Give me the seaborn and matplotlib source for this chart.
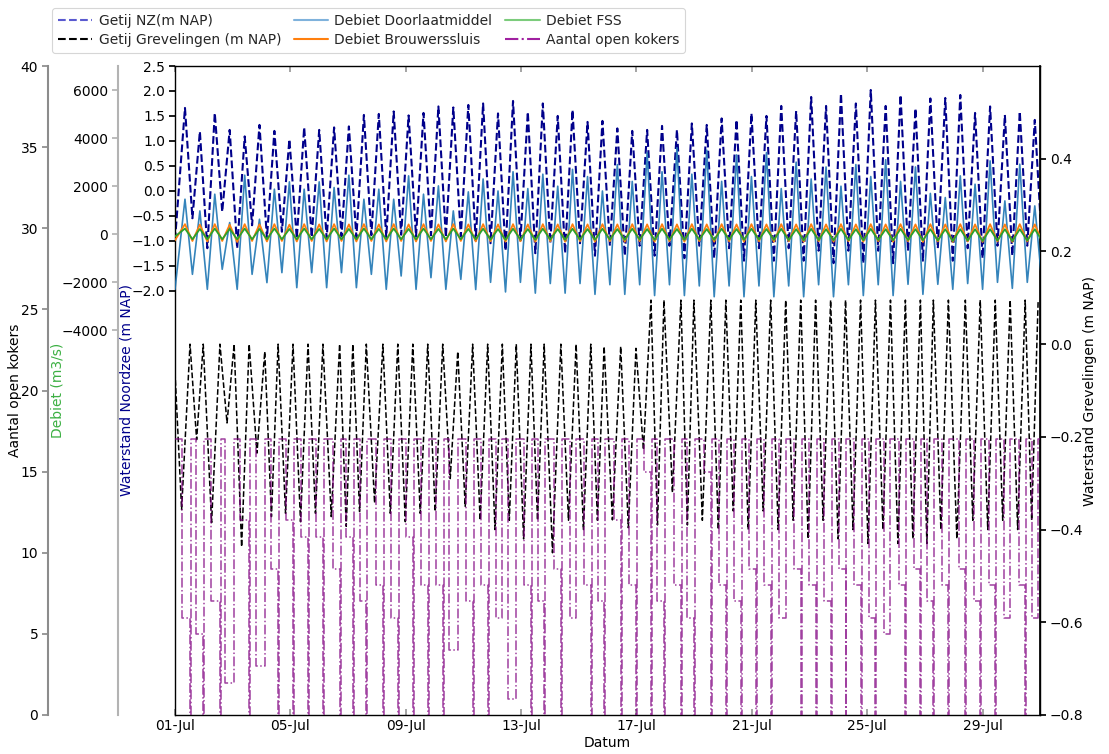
import numpy as np
import pandas as pd
import matplotlib
matplotlib.use("Agg")
import matplotlib.pyplot as plt
import matplotlib.dates as mdates
from matplotlib.lines import Line2D
import seaborn as sns

sns.set_theme(style="ticks")
plt.rcParams['font.family'] = ['DejaVu Sans']
plt.rcParams['font.size'] = 10
plt.rcParams['axes.unicode_minus'] = True

START = pd.Timestamp("2013-07-01 00:00")
END = pd.Timestamp("2013-07-30 23:50")

# ---------------- data (hours since 01-Jul 00:00) ----------------
nz_hw_hours = [8.3, 20.7, 33.1, 45.5, 58.0, 70.3, 82.7, 95.2, 107.5, 120.0,
               132.4, 144.7, 157.2, 169.6, 182.0, 194.4, 206.8, 219.2, 231.6, 244.1,
               256.4, 268.8, 281.3, 293.6, 306.1, 318.5, 330.8, 343.3, 355.7, 368.1,
               380.5, 392.9, 405.3, 417.7, 430.1, 442.5, 454.9, 467.3, 479.7, 492.2,
               504.5, 516.9, 529.4, 541.8, 554.2, 566.6, 579.0, 591.4, 603.8, 616.2,
               628.6, 641.0, 653.5, 665.8, 678.3, 690.6, 703.0, 715.5]
nz_start = -0.99
nz_high = [1.66, 1.19, 1.56, 1.22, 1.09, 1.32, 1.20, 1.03, 1.27, 1.22,
           1.27, 1.29, 1.52, 1.54, 1.59, 1.51, 1.56, 1.69, 1.67, 1.72,
           1.75, 1.55, 1.80, 1.58, 1.75, 1.50, 1.62, 1.38, 1.40, 1.25,
           1.20, 1.22, 1.30, 1.22, 1.35, 1.32, 1.45, 1.42, 1.55, 1.50,
           1.70, 1.60, 1.88, 1.70, 1.95, 1.75, 2.02, 1.70, 1.92, 1.65,
           1.85, 1.86, 1.92, 1.56, 1.69, 1.52, 1.59, 1.42]
nz_low = [-0.55, -1.15, -0.42, -1.15, -0.69, -0.95, -0.82, -0.95, -0.93, -0.95,
          -0.91, -0.93, -0.89, -0.93, -0.88, -0.91, -0.89, -0.93, -0.91, -1.00,
          -1.05, -1.20, -1.00, -1.25, -1.05, -1.25, -1.05, -1.30, -1.10, -1.30,
          -1.10, -1.30, -1.10, -1.35, -1.10, -1.35, -1.15, -1.40, -1.15, -1.40,
          -1.15, -1.40, -1.20, -1.45, -1.20, -1.45, -1.20, -1.45, -1.20, -1.40,
          -1.15, -1.40, -1.15, -1.35, -1.10, -1.30, -1.10, -1.20]

doorlaat_start = -2290
doorlaat_high = [1458, 971, 1667, 486, 2458, 625, 1875, 2180, 1875, 2180,
                 1945, 2458, 1458, 1875, 1458, 2430, 1667, 2013, 971, 1764,
                 2300, 1800, 2600, 1900, 2500, 2000, 2700, 2400, 1800, 2900,
                 2200, 3400, 2600, 3600, 2500, 3500, 2200, 3300, 2400, 3400,
                 1900, 3000, 2300, 2800, 2000, 2900, 2400, 3100, 2200, 2800,
                 1700, 1528, 2430, 2083, 3054, 1388, 2916, 1180]
doorlaat_low = [-1667, -2290, -1458, -2290, -1667, -2013, -1597, -2222, -1597, -2222,
                -1597, -2222, -1667, -2290, -1736, -2290, -1806, -2290, -1875, -2300,
                -2000, -2400, -2000, -2450, -2050, -2450, -2050, -2500, -2100, -2500,
                -2100, -2550, -2100, -2550, -2150, -2600, -2150, -2600, -2150, -2600,
                -2150, -2600, -2100, -2600, -2100, -2550, -2100, -2550, -2083, -2500,
                -2083, -2290, -2050, -2290, -2000, -2250, -2000, -2200]

brouwers_start = -250
brouwers_high = [420, 400, 420, 400, 420, 410, 420, 400, 420, 410,
                 420, 410, 420, 410, 420, 410, 420, 410, 420, 410,
                 420, 410, 420, 410, 420, 410, 420, 410, 420, 410,
                 420, 410, 420, 410, 420, 410, 420, 410, 420, 410,
                 420, 410, 420, 410, 420, 410, 420, 410, 420, 410,
                 420, 410, 420, 410, 420, 410, 420, 410]
brouwers_low = [-280, -300, -280, -320, -280, -300, -280, -300, -280, -300,
                -280, -300, -280, -300, -280, -300, -280, -300, -280, -300,
                -290, -310, -290, -310, -290, -310, -290, -310, -290, -310,
                -290, -310, -290, -310, -290, -310, -290, -310, -290, -310,
                -290, -310, -290, -310, -290, -310, -290, -310, -290, -320,
                -300, -320, -300, -320, -300, -320, -300, -320]

fss_start = -90
fss_high = [236, 220, 236, 220, 236, 220, 236, 220, 236, 220,
            236, 220, 236, 220, 236, 220, 236, 220, 236, 220,
            230, 215, 230, 215, 230, 215, 230, 215, 230, 215,
            230, 215, 230, 215, 230, 215, 230, 215, 230, 215,
            225, 210, 225, 210, 225, 210, 225, 210, 225, 210,
            210, 208, 210, 208, 210, 208, 210, 208]
fss_low = [-208, -210, -208, -210, -208, -210, -208, -210, -208, -210,
           -208, -210, -208, -210, -208, -210, -208, -210, -208, -210,
           -220, -230, -220, -230, -220, -230, -220, -230, -220, -230,
           -220, -230, -220, -230, -220, -230, -220, -230, -220, -230,
           -240, -250, -240, -250, -240, -250, -240, -250, -240, -250,
           -260, -278, -260, -278, -260, -278, -260, -278]

grev_hw_hours = [12.5, 23.5, 37.4, 49.2, 61.7, 74.7, 85.8, 98.2, 110.7, 123.1,
                 137.0, 148.0, 159.2, 173.0, 185.4, 197.9, 210.3, 222.8, 235.3, 247.7,
                 260.2, 272.4, 284.0, 296.2, 307.2, 321.1, 333.8, 346.0, 357.1, 370.9,
                 383.6, 396.1, 406.9, 421.0, 431.8, 445.9, 458.4, 470.8, 483.3, 495.7,
                 508.2, 520.7, 533.1, 545.6, 558.0, 570.5, 582.9, 595.4, 607.8, 620.3,
                 631.1, 643.6, 657.7, 670.1, 682.6, 695.0, 707.5, 718.3]
grev_start = -0.06
grev_first_lw_hour = 5.5
grev_high = [0.0, 0.0, 0.0, 0.0, 0.0, -0.016, 0.0, 0.0, 0.0, 0.0,
             0.0, 0.0, 0.0, 0.0, 0.0, 0.0, 0.0, 0.0, -0.016, 0.0,
             0.0, 0.0, 0.0, 0.0, 0.0, 0.0, 0.0, 0.0, -0.005, -0.005,
             -0.009, 0.095, 0.095, 0.095, 0.095, 0.095, 0.095, 0.095, 0.095, 0.095,
             0.095, 0.095, 0.095, 0.095, 0.095, 0.095, 0.095, 0.095, 0.095, 0.095,
             0.095, 0.095, 0.095, 0.095, 0.095, 0.095, 0.095, 0.095]
grev_low = [-0.357, -0.206, -0.385, -0.17, -0.437, -0.235, -0.372, -0.365, -0.383, -0.365,
            -0.372, -0.393, -0.361, -0.343, -0.365, -0.383, -0.365, -0.361, -0.29, -0.350,
            -0.38, -0.40, -0.38, -0.42, -0.38, -0.45, -0.38, -0.40, -0.38, -0.379,
            -0.396, -0.228, -0.39, -0.32, -0.39, -0.38, -0.40, -0.36, -0.40, -0.36,
            -0.40, -0.38, -0.42, -0.38, -0.42, -0.40, -0.43, -0.40, -0.43, -0.42,
            -0.43, -0.40, -0.42, -0.38, -0.40, -0.38, -0.40, -0.38]

kokers_max = 17
kokers_level = [6, 5, 7, 2, 12, 3, 9, 12, 11, 11,
                9, 11, 7, 8, 6, 11, 8, 8, 4, 7,
                8, 6, 1, 8, 7, 9, 6, 8, 7, 12,
                8, 15, 7, 8, 6, 15, 8, 7, 9, 8,
                6, 9, 8, 7, 9, 8, 6, 5, 8, 9,
                7, 8, 9, 7, 8, 6, 8, 6]
kokers_to_zero = [1, 1, 1, 0, 1, 0, 1, 1, 1, 1,
                  1, 1, 1, 1, 1, 1, 1, 1, 0, 1,
                  1, 0, 0, 1, 1, 1, 0, 1, 1, 1,
                  1, 1, 1, 1, 1, 1, 1, 1, 1, 1,
                  0, 1, 1, 1, 1, 1, 1, 0, 1, 1,
                  1, 1, 1, 1, 1, 0, 1, 0]
kokers_lead_hours = [6.9, 6.1, 7.1, 7.5, 7.7, 7.5, 5.5, 5.8, 5.5, 5.5,
                     5.5, 5.5, 5.5, 5.5, 5.5, 5.5, 5.5, 5.5, 6.9, 5.5,
                     5.5, 5.5, 7.0, 5.5, 5.5, 5.5, 5.5, 5.5, 5.5, 5.5,
                     5.5, 5.5, 5.5, 5.5, 5.5, 5.5, 5.5, 5.5, 5.5, 5.5,
                     5.5, 5.5, 5.5, 5.5, 5.5, 5.5, 5.5, 5.5, 5.5, 5.5,
                     5.5, 5.5, 5.5, 5.5, 5.5, 5.5, 5.5, 5.5]
kokers_zero_hours = 0.8

series_labels = ["Getij NZ(m NAP)", "Getij Grevelingen (m NAP)", "Debiet Doorlaatmiddel",
                 "Debiet Brouwerssluis", "Debiet FSS", "Aantal open kokers"]


# ---------------- build frames ----------------
def to_time(h):
    return START + pd.to_timedelta(np.asarray(h, float), unit="h")


def hw_first(hw_h, hi, lo, v0):
    hw = np.asarray(hw_h, float)
    lw = np.append((hw[:-1] + hw[1:]) / 2, hw[-1] + (hw[-1] - hw[-2]) / 2)
    t = np.empty(2 * len(hw)); v = np.empty(2 * len(hw))
    t[0::2], t[1::2] = hw, lw
    v[0::2], v[1::2] = hi, lo
    t = np.insert(t, 0, 0.0); v = np.insert(v, 0, v0)
    return pd.DataFrame({"time": to_time(t), "value": v})


def lw_first(hw_h, hi, lo, v0, lw0):
    hw = np.asarray(hw_h, float)
    lw = np.insert((hw[:-1] + hw[1:]) / 2, 0, lw0)
    t = np.empty(2 * len(hw)); v = np.empty(2 * len(hw))
    t[0::2], t[1::2] = lw, hw
    v[0::2], v[1::2] = lo, hi
    t = np.insert(t, 0, 0.0); v = np.insert(v, 0, v0)
    return pd.DataFrame({"time": to_time(t), "value": v})


df_nz = hw_first(nz_hw_hours, nz_high, nz_low, nz_start)
df_dl = hw_first(nz_hw_hours, doorlaat_high, doorlaat_low, doorlaat_start)
df_bs = hw_first(nz_hw_hours, brouwers_high, brouwers_low, brouwers_start)
df_fss = hw_first(nz_hw_hours, fss_high, fss_low, fss_start)
df_gr = lw_first(grev_hw_hours, grev_high, grev_low, grev_start, grev_first_lw_hour)

kt, kv = [0.0], [kokers_max]
for T, lead, lev, z in zip(grev_hw_hours, kokers_lead_hours, kokers_level, kokers_to_zero):
    kt += [T - lead, T - lead, T]
    kv += [kokers_max, lev, lev]
    if z:
        kt += [T, T + kokers_zero_hours, T + kokers_zero_hours]
        kv += [0, 0, kokers_max]
    else:
        kt += [T]
        kv += [kokers_max]
kt += [720.0]; kv += [kokers_max]
df_k = pd.DataFrame({"time": to_time(kt), "value": kv})

# ---------------- figure ----------------
DPI = 100
PX2PT = 72.0 / DPI
fig = plt.figure(figsize=(11.09, 7.54), dpi=DPI)
ax = fig.add_axes([175 / 1109, 39 / 754, 865 / 1109, 649 / 754])
ax_r = ax.twinx()
ax_q = ax.twinx()
ax_k = ax.twinx()

c_nz = "#00008B"
c_dl = "#1f77b4"
c_bs = "#ff7f0e"
c_fss = "#2ca02c"
c_gr = "black"
c_k = "purple"

common = dict(x="time", y="value", estimator=None, sort=False, legend=False)
sns.lineplot(data=df_k, ax=ax_k, color=c_k, linestyle="-.", linewidth=1.1, alpha=0.75, **common)
sns.lineplot(data=df_dl, ax=ax_q, color=c_dl, linewidth=1.2, alpha=0.9, **common)
sns.lineplot(data=df_bs, ax=ax_q, color=c_bs, linewidth=1.3, **common)
sns.lineplot(data=df_fss, ax=ax_q, color=c_fss, linewidth=1.3, **common)
sns.lineplot(data=df_nz, ax=ax, color=c_nz, linestyle="--", linewidth=1.5, **common)
sns.lineplot(data=df_gr, ax=ax_r, color=c_gr, linestyle="--", linewidth=1.1, **common)

# main axis (Noordzee)
ax.set_ylim(-10.5, 2.5)
ax.set_yticks(np.arange(-2.0, 2.51, 0.5))
ax.set_xlim(START, END)
ax.xaxis.set_major_locator(mdates.DayLocator(bymonthday=[1, 5, 9, 13, 17, 21, 25, 29]))
ax.xaxis.set_major_formatter(mdates.DateFormatter("%d-%b"))
ax.tick_params(axis="x", which="both", direction="in", top=True, bottom=True,
               color="0.6", length=4, labelsize=10, labelcolor="black", pad=3)
ax.tick_params(axis="y", direction="out", length=4, color="black", labelsize=10,
               labelcolor="black", left=True, pad=3)
ax.set_xlabel("Datum", fontsize=10, color="black", labelpad=2)
ax.set_ylabel("Waterstand Noordzee (m NAP)", fontsize=10, color=c_nz)
ax.yaxis.set_label_coords((134 - 175) / 865, 0.5)
for s in ax.spines.values():
    s.set_color("black"); s.set_linewidth(1.0)

# right axis (Grevelingen)
ax_r.set_ylim(-0.8, 0.6)
ax_r.set_yticks(np.arange(-0.8, 0.41, 0.2))
ax_r.tick_params(axis="y", direction="out", length=4, right=True, color="black",
                 labelsize=10, labelcolor="black", pad=3)
ax_r.set_ylabel("Waterstand Grevelingen (m NAP)", fontsize=10, color="black")
ax_r.yaxis.set_label_coords((1083 - 175) / 865, 0.5)
for k in ["left", "top", "bottom"]:
    ax_r.spines[k].set_visible(False)
ax_r.spines["right"].set_color("black")

# debiet axis
ax_q.set_ylim(-20000, 7000)
ax_q.set_yticks([-4000, -2000, 0, 2000, 4000, 6000])
ax_q.yaxis.set_ticks_position("left")
ax_q.yaxis.set_label_position("left")
ax_q.spines["left"].set_visible(True)
ax_q.spines["left"].set_position(("outward", (175 - 118) * PX2PT))
ax_q.spines["left"].set_color("#b3b3b3")
ax_q.spines["left"].set_linewidth(1.5)
for k in ["right", "top", "bottom"]:
    ax_q.spines[k].set_visible(False)
ax_q.tick_params(axis="y", direction="out", length=4, color="#b3b3b3", labelsize=10,
                 labelcolor="black", left=True, right=False, pad=3)
ax_q.set_ylabel("Debiet (m3/s)", fontsize=10, color="#3cb043")
ax_q.yaxis.set_label_coords((64 - 175) / 865, 0.5)

# kokers axis
ax_k.set_ylim(0, 40)
ax_k.set_yticks(np.arange(0, 41, 5))
ax_k.yaxis.set_ticks_position("left")
ax_k.yaxis.set_label_position("left")
ax_k.spines["left"].set_visible(True)
ax_k.spines["left"].set_position(("outward", (175 - 48) * PX2PT))
ax_k.spines["left"].set_color("#8c8c8c")
ax_k.spines["left"].set_linewidth(1.5)
for k in ["right", "top", "bottom"]:
    ax_k.spines[k].set_visible(False)
ax_k.tick_params(axis="y", direction="out", length=4, color="#8c8c8c", labelsize=10,
                 labelcolor="black", left=True, right=False, pad=3)
ax_k.set_ylabel("Aantal open kokers", fontsize=10, color="black")
ax_k.yaxis.set_label_coords((22 - 175) / 865, 0.5)

for a in (ax_r, ax_q, ax_k):
    a.set_xlim(START, END)

handles = [
    Line2D([], [], color="#5a5ad0", linestyle="--", linewidth=1.5),
    Line2D([], [], color="black", linestyle="--", linewidth=1.5),
    Line2D([], [], color="#7fb2dc", linewidth=1.5),
    Line2D([], [], color=c_bs, linewidth=1.5),
    Line2D([], [], color="#7ccc7c", linewidth=1.5),
    Line2D([], [], color="#a020a0", linestyle="-.", linewidth=1.5),
]
leg = fig.legend(handles, series_labels, loc="upper left", ncol=3,
                 bbox_to_anchor=(52 / 1109, 1 - 8 / 754), borderaxespad=0.0,
                 frameon=True, fancybox=True,
                 fontsize=10, handlelength=2.5, handletextpad=0.45, columnspacing=0.9,
                 borderpad=0.4, labelspacing=0.4)
leg.get_frame().set_edgecolor("#cccccc")
leg.get_frame().set_linewidth(0.8)

fig.savefig("out.png", dpi=DPI)
